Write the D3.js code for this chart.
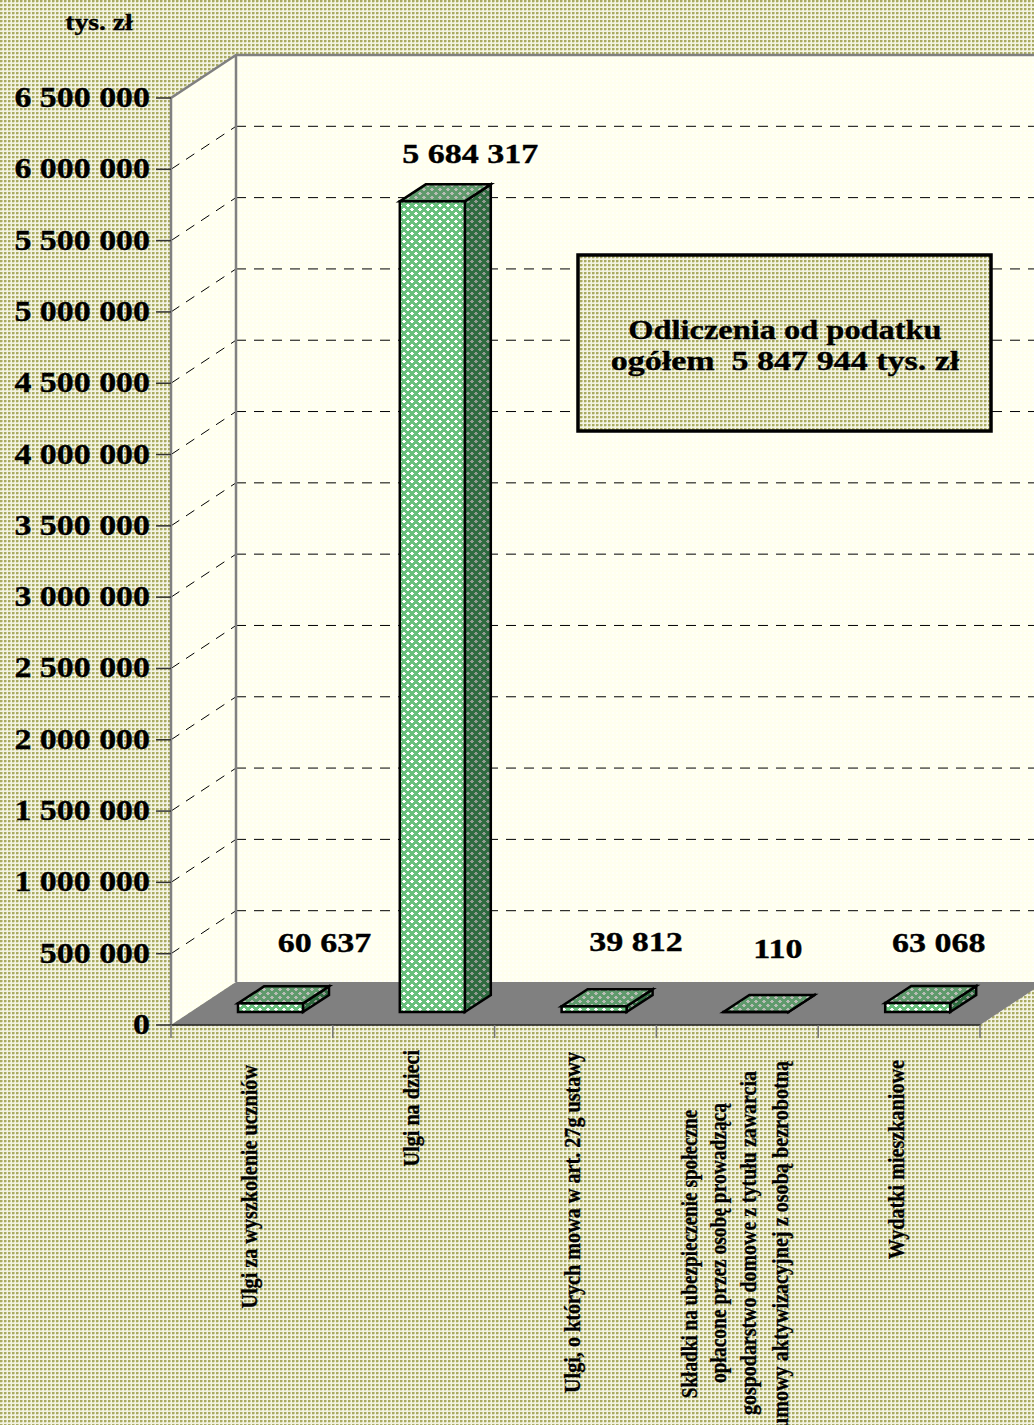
<!DOCTYPE html>
<html><head><meta charset="utf-8">
<script src="https://cdn.jsdelivr.net/npm/d3@7"></script>
<style>html,body{margin:0;padding:0;overflow:hidden;background:#fff}svg{display:block}text{font-family:"Liberation Serif",serif;font-weight:bold;fill:#000;stroke:#000;stroke-width:0.35px}</style>
</head><body><div id="c"></div>
<script>
const categories = [
  ["Ulgi za wyszkolenie uczniów"],
  ["Ulgi na dzieci"],
  ["Ulgi, o których mowa w art. 27g ustawy"],
  ["Składki na ubezpieczenie społeczne","opłacone przez osobę prowadzącą","gospodarstwo domowe z tytułu zawarcia","umowy aktywizacyjnej z osobą bezrobotną"],
  ["Wydatki mieszkaniowe"]
];
const values = [60637, 5684317, 39812, 110, 63068];
const valueLabels = ["60 637","5 684 317","39 812","110","63 068"];
const yTicks = [0,500000,1000000,1500000,2000000,2500000,3000000,3500000,4000000,4500000,5000000,5500000,6000000,6500000];
const unitLabel = "tys. zł";
const noteLines = ["Odliczenia od podatku","ogółem  5 847 944 tys. zł"];

const W=1034,H=1425;
const fmt=v=>String(v).replace(/\B(?=(\d{3})+$)/g," ");
const x0=171,x1=980,yB=1025,yT=98,dX=65,dY=-43;
const x=d3.scaleBand().domain(d3.range(categories.length)).range([x0,x1]).padding(0);
const y=d3.scaleLinear().domain([0,6500000]).range([yB,yT]);
const svg=d3.select("#c").append("svg").attr("width",W).attr("height",H);
const defs=svg.append("defs");
function pat(id,bg,rects,s){
  const p=defs.append("pattern").attr("id",id).attr("patternUnits","userSpaceOnUse").attr("width",s).attr("height",s);
  p.append("rect").attr("width",s).attr("height",s).attr("fill",bg);
  rects.forEach(r=>p.append("rect").attr("x",r[0]).attr("y",r[1]).attr("width",r[2]).attr("height",r[3]).attr("fill",r[4]));
}
const ol="#a9aa62";
pat("bg","#f3f3e2",[[0,0,2,2,ol],[2,0,1,2,"#cfd09c"],[0,2,2,1,"#dcdcb8"]],4);
pat("wall","#ffffee",[[0,0,2,2,"#fffff8"]],4);
function cross(c){return [[3,0,2,1,c],[2,1,4,1,c],[3,2,2,1,c],[7,4,1,1,c],[0,4,1,1,c],[6,5,2,1,c],[0,5,2,1,c],[7,6,1,1,c],[0,6,1,1,c]];}
pat("front","#68c07c",cross("#ffffff"),8);
pat("top","#5f9a6c",cross("#b9bdb6"),8);
pat("side","#2f6b40",cross("#939b93"),8);

svg.append("rect").attr("width",W).attr("height",H).attr("fill","url(#bg)");
const poly=(pts)=>pts.map(p=>p.join(",")).join(" ");
svg.append("rect").attr("x",x0+dX).attr("y",yT+dY).attr("width",W-x0-dX+20).attr("height",yB-yT).attr("fill","url(#wall)");
svg.append("polygon").attr("points",poly([[x0,yT],[x0+dX,yT+dY],[x0+dX,yB+dY],[x0,yB]])).attr("fill","url(#wall)");
svg.append("polygon").attr("points",poly([[x0,yB],[x0+dX,yB+dY],[x1+dX,yB+dY],[x1,yB]])).attr("fill","#808080");
const g=svg.append("g");
const grid=yTicks.filter(v=>v>0&&v<6500000);
g.selectAll("line.b").data(grid).join("line").attr("x1",x0+dX).attr("x2",W).attr("y1",v=>y(v)+dY).attr("y2",v=>y(v)+dY).attr("stroke","#000").attr("stroke-dasharray","10 8");
g.selectAll("line.s").data(grid).join("line").attr("x1",x0).attr("x2",x0+dX).attr("y1",v=>y(v)).attr("y2",v=>y(v)+dY).attr("stroke","#000").attr("stroke-dasharray","10 8");
const edge="#808080";
svg.append("path").attr("d",`M${x0},${yB}L${x0},${yT}L${x0+dX},${yT+dY}L${W},${yT+dY}M${x0+dX},${yT+dY}L${x0+dX},${yB+dY}`).attr("fill","none").attr("stroke",edge).attr("stroke-width",2.5);
const ax=svg.append("g").attr("transform",`translate(${x0},-0.5)`).call(d3.axisLeft(y).tickValues(yTicks).tickSize(15).tickFormat(fmt));
ax.select(".domain").remove();
ax.selectAll("line").attr("stroke","#333").attr("stroke-width",1.5);
ax.selectAll("text").attr("font-size",30).attr("x",-21).attr("dy","0.30em").style("font-family",'"Liberation Serif"');
const bx=svg.append("g").attr("transform",`translate(0,${yB-0.5})`).call(d3.axisBottom(x).tickSize(0).tickFormat(""));
bx.select(".domain").attr("stroke","#222").attr("stroke-width",1.5);
svg.selectAll("line.t").data(d3.range(categories.length+1)).join("line").attr("class","t")
 .attr("x1",i=>i<categories.length?x(i):x1).attr("x2",i=>i<categories.length?x(i):x1).attr("y1",yB).attr("y2",yB+13).attr("stroke","#777").attr("stroke-width",1.5);
const barW=65,barOff=67,baseY=13,ddx=26,ddy=-17;
const bars=svg.selectAll("g.bar").data(values).join("g").attr("class","bar");
bars.each(function(v,i){
  const s=d3.select(this),l=x(i)+barOff,r=l+barW,b=yB-baseY,t=b-(yB-y(v));
  const st=e=>e.attr("stroke","#000").attr("stroke-width",2.5).attr("stroke-linejoin","miter");
  st(s.append("polygon").attr("points",poly([[r,b],[r+ddx,b+ddy],[r+ddx,t+ddy],[r,t]])).attr("fill","url(#side)"));
  st(s.append("polygon").attr("points",poly([[l,t],[l+ddx,t+ddy],[r+ddx,t+ddy],[r,t]])).attr("fill","url(#top)"));
  st(s.append("rect").attr("x",l).attr("y",t).attr("width",barW).attr("height",Math.max(b-t,0)).attr("fill","url(#front)"));
});
const lblDX=[54,38,42,22,21], lblDY=[60,47,64,63,60];
svg.selectAll("text.v").data(values).join("text").attr("class","v")
 .attr("x",(v,i)=>x(i)+barOff+barW/2+lblDX[i])
 .attr("y",(v,i)=>y(v)-baseY-lblDY[i]+9)
 .attr("text-anchor","middle").attr("font-size",27).text((v,i)=>valueLabels[i]);
const catX=[[250],[412],[573],[690,719,749,781],[897]];
const catEndY=[1065,1050,1052,null,1060];
const multiMid=[1254,1243,1243,1245], multiK=[0.80,0.81,0.83,0.84];
categories.forEach((lines,i)=>{
  lines.forEach((t,j)=>{
    const multi=lines.length>1;
    const yy=multi?multiMid[j]:catEndY[i];
    const el=svg.append("text").attr("transform",`translate(${catX[i][j]+7},${yy}) rotate(-90)`)
      .attr("text-anchor",multi?"middle":"end").attr("font-size",24).text(t);
    stretch(el,multi?multiK[j]:0.84);
  });
});
svg.append("text").attr("class","u").attr("x",99).attr("y",30).attr("text-anchor","middle").attr("font-size",23).text(unitLabel);
svg.append("rect").attr("x",578).attr("y",255).attr("width",413).attr("height",176).attr("fill","url(#bg)").attr("stroke","#000").attr("stroke-width",3.5);
const noteK=[1.2,1.26];
noteLines.forEach((t,i)=>{
  const el=svg.append("text").attr("x",785).attr("y",339+i*31).attr("text-anchor","middle").attr("font-size",27).attr("xml:space","preserve").style("white-space","pre").text(t);
  stretch(el,noteK[i]);
});
function stretch(sel,k){sel.each(function(){const n=this.getComputedTextLength();this.setAttribute("textLength",n*k);this.setAttribute("lengthAdjust","spacingAndGlyphs");});}
stretch(ax.selectAll("text"),1.13);
stretch(svg.selectAll("text.v"),1.26);
stretch(svg.selectAll("text.u"),1.2);
</script></body></html>
